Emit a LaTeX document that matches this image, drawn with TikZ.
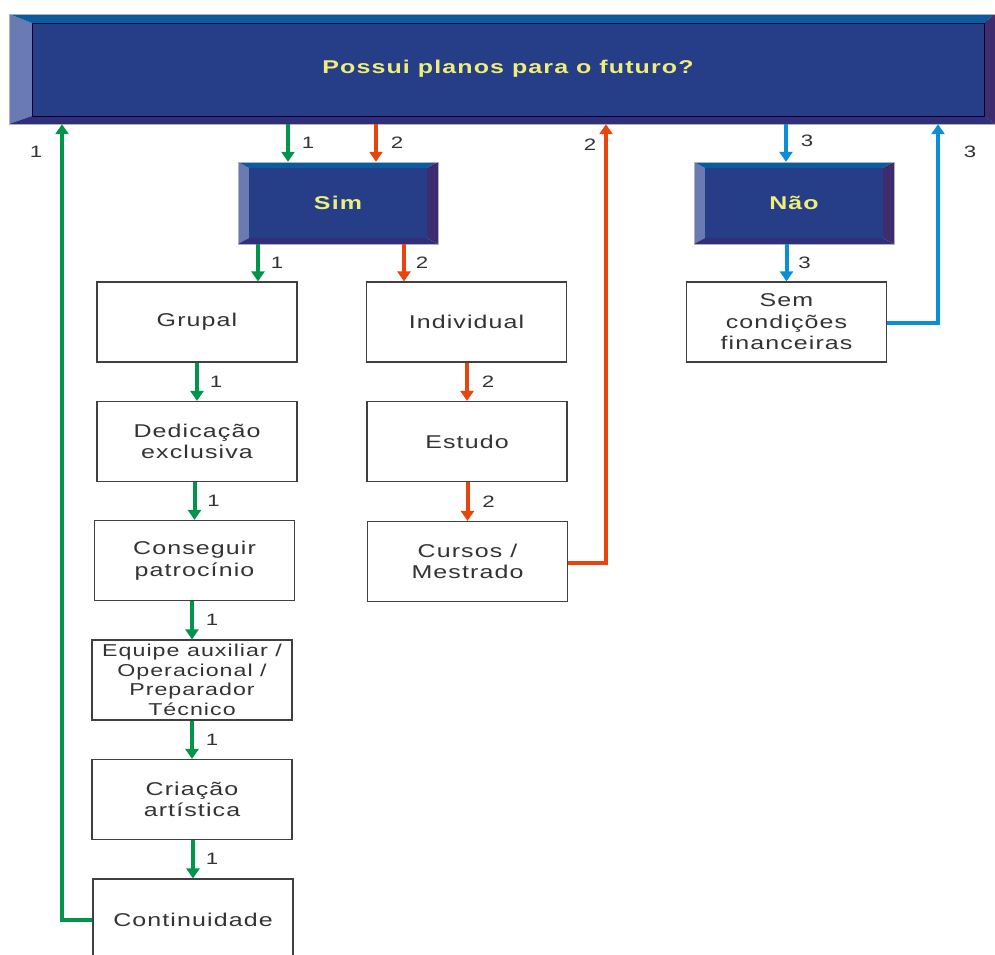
\documentclass[tikz,border=0pt]{standalone}
\usepackage{fontspec}
\setmainfont{Liberation Sans}[FakeStretch=1.35,LetterSpace=6]
\usetikzlibrary{arrows.meta}
\definecolor{gr}{HTML}{00954B}
\definecolor{og}{HTML}{E8450C}
\definecolor{bl}{HTML}{0A8ED6}
\definecolor{txt}{HTML}{333333}
\definecolor{yel}{HTML}{EEEE78}
\definecolor{bvleft}{HTML}{6A7AB2}
\definecolor{bvtop}{HTML}{0A5C9E}
\definecolor{bvright}{HTML}{3E2C6E}
\definecolor{bvbot}{HTML}{30307A}
\definecolor{bvface}{HTML}{263D87}
\newcommand{\bevbox}[8]{%
  \fill[bvleft] (#1,#2) -- (#1+#5,#2+#6) -- (#1+#5,#4-#8) -- (#1,#4) -- cycle;
  \fill[bvtop] (#1,#2) -- (#3,#2) -- (#3-#7,#2+#6) -- (#1+#5,#2+#6) -- cycle;
  \fill[bvright] (#3,#2) -- (#3,#4) -- (#3-#7,#4-#8) -- (#3-#7,#2+#6) -- cycle;
  \fill[bvbot] (#1,#4) -- (#3,#4) -- (#3-#7,#4-#8) -- (#1+#5,#4-#8) -- cycle;
  \fill[bvface] (#1+#5,#2+#6) rectangle (#3-#7,#4-#8);
  \draw[gray!60, line width=0.8pt] (#1,#2) rectangle (#3,#4);
}
\begin{document}
\begin{tikzpicture}[x=1pt,y=-1pt,
  wbox/.style={draw=black!75, line width=1.2pt, fill=white, minimum width=200pt, minimum height=80pt, inner sep=0pt, align=center, text=txt, font=\fontsize{18.5}{21.5}\selectfont},
  bvnode/.style={inner sep=0pt, minimum width=200pt, minimum height=82pt},
  bvtext/.style={text=yel, font=\fontsize{18.5}{22}\selectfont\bfseries},
  lbl/.style={text=txt, font=\fontsize{16.5}{18}\selectfont},
  arr/.style={line width=4pt, -{Triangle[width=13pt,length=10pt]}},
  ga/.style={arr, draw=gr},
  oa/.style={arr, draw=og},
  ba/.style={arr, draw=bl},
]
\useasboundingbox (0,0) rectangle (995,954);
\clip (0,0) rectangle (995,954);
\fill[white] (0,0) rectangle (995,954);

% banner
\bevbox{9}{14}{995}{124}{23}{9}{11}{8}
\draw[black!80!blue, line width=0.9pt] (32,23) rectangle (984,116);
\node[inner sep=0pt, minimum width=986pt, minimum height=110pt] (banner) at (502,69) {};
\node[bvtext] (bannertext) at (508,69) {Possui planos para o futuro?};

% Sim / Nao
\bevbox{238}{162}{438}{244}{11}{6}{11}{6}
\node[bvnode] (sim) at (338,203) {};
\node[bvtext] (simtext) at (338,203) {Sim};
\bevbox{694}{162}{894}{244}{11}{6}{11}{6}
\node[bvnode] (nao) at (794,203) {};
\node[bvtext] (naotext) at (794,203) {Não};

% white boxes
\node[wbox] (grupal) at (197,322) {Grupal};
\node[wbox] (indiv) at (466.5,322) {Individual};
\node[wbox] (sem) at (786.5,322) {Sem\\condições\\financeiras};
\node[wbox] (dedic) at (197,441.5) {Dedicação\\exclusiva};
\node[wbox] (estudo) at (467,441.5) {Estudo};
\node[wbox] (consegu) at (194.5,560.5) {Conseguir\\patrocínio};
\node[wbox] (cursos) at (467.5,561.5) {Cursos /\\Mestrado};
\node[wbox, font=\fontsize{17.2}{19.5}\selectfont] (equipe) at (192,680) {Equipe auxiliar /\\Operacional /\\Preparador\\Técnico};
\node[wbox] (criacao) at (192,799.5) {Criação\\artística};
\node[wbox, minimum height=82pt] (contin) at (193,920) {Continuidade};

% anchor coordinates
\coordinate (s1) at ([xshift=-50pt]sim.north);
\coordinate (s2) at ([xshift=38pt]sim.north);
\coordinate (g1) at ([xshift=61pt]grupal.north);
\coordinate (i1) at ([xshift=-62.5pt]indiv.north);
\coordinate (n1) at ([xshift=-8pt]nao.north);

% arrows
\draw[ga] (banner.south -| s1) -- node[lbl, xshift=20pt] (l1) {1} (s1);
\draw[oa] (banner.south -| s2) -- node[lbl, xshift=21pt] (l2) {2} (s2);
\draw[ga] (sim.south -| g1) -- node[lbl, xshift=19pt] (l3) {1} (g1);
\draw[oa] (sim.south -| i1) -- node[lbl, xshift=18pt] (l4) {2} (i1);
\draw[ga] (grupal.south) -- node[lbl, xshift=19pt] (l5) {1} (dedic.north);
\draw[oa] (indiv.south -| estudo.north) -- node[lbl, xshift=21pt] (l6) {2} (estudo.north);
\draw[ga] (dedic.south -| consegu.north) -- node[lbl, xshift=19pt] (l7) {1} (consegu.north);
\draw[oa] (estudo.south -| cursos.north) -- node[lbl, xshift=21pt] (l8) {2} (cursos.north);
\draw[ga] (consegu.south -| equipe.north) -- node[lbl, xshift=20pt] (l9) {1} (equipe.north);
\draw[ga] (equipe.south) -- node[lbl, xshift=20pt] (l10) {1} (criacao.north);
\draw[ga] (criacao.south -| contin.north) -- node[lbl, xshift=19pt] (l11) {1} (contin.north);
\draw[ba] (banner.south -| n1) -- node[lbl, xshift=21pt, yshift=2pt] (l12) {3} (n1);
\draw[ba] (nao.south -| sem.north) -- node[lbl, xshift=18pt] (l13) {3} (sem.north);

% return lines
\coordinate (rg) at (62,920);
\coordinate (ro) at (606,563);
\coordinate (rb) at (938,323);
\draw[ga] (contin.west |- rg) -- (rg) -- (banner.south -| rg);
\draw[oa] (cursos.east |- ro) -- (ro) -- (banner.south -| ro);
\draw[ba] (sem.east |- rb) -- (rb) -- (banner.south -| rb);
\node[lbl] (r1) at (36,152) {1};
\node[lbl] (r2) at (590,145) {2};
\node[lbl] (r3) at (970,152) {3};
\end{tikzpicture}
\end{document}
